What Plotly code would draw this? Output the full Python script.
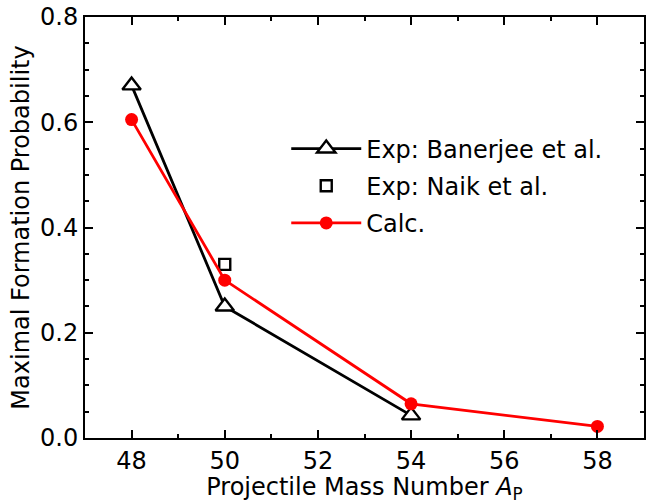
import plotly.graph_objects as go

# Data
mass_banerjee = [48, 50, 54]
prob_banerjee = [0.67, 0.25, 0.043]
mass_naik = [50]
prob_naik = [0.33]
mass_calc = [48, 50, 54, 58]
prob_calc = [0.605, 0.30, 0.065, 0.022]

FONT = "DejaVu Sans"
FS = 24

fig = go.Figure()
fig.add_trace(go.Scatter(
    x=mass_banerjee, y=prob_banerjee, mode="lines+markers",
    name="Exp: Banerjee et al.", legendgroup="a",
    line=dict(color="black", width=2.8),
    marker=dict(symbol="triangle-up", size=16, color="white",
                line=dict(color="black", width=2.4)),
))
fig.add_trace(go.Scatter(
    x=mass_naik, y=prob_naik, mode="markers",
    name="Exp: Naik et al.", legendgroup="b",
    marker=dict(symbol="square", size=11, color="white",
                line=dict(color="black", width=2.4)),
))
fig.add_trace(go.Scatter(
    x=mass_calc, y=prob_calc, mode="lines+markers",
    name="Calc.", legendgroup="c",
    line=dict(color="red", width=2.8),
    marker=dict(symbol="circle", size=13, color="red"),
))

axis_common = dict(
    showline=True, linecolor="black", linewidth=2, mirror="allticks",
    ticks="inside", ticklen=8, tickwidth=1.5, tickcolor="black",
    showgrid=False, zeroline=False,
    tickfont=dict(family=FONT, size=FS, color="black"),
)

fig.update_xaxes(
    range=[47, 59], dtick=2, tick0=48,
    minor=dict(ticks="inside", dtick=1, ticklen=4, tickwidth=1.5, tickcolor="black"),
    title=dict(text="Projectile Mass Number <i>A</i><sub>P</sub>",
               font=dict(family=FONT, size=FS, color="black"), standoff=0),
    **axis_common,
)
fig.update_yaxes(
    range=[0, 0.8], dtick=0.2, tickformat=".1f",
    minor=dict(ticks="inside", dtick=0.05, ticklen=4, tickwidth=1.5, tickcolor="black"),
    title=dict(text="Maximal Formation Probability",
               font=dict(family=FONT, size=FS, color="black"), standoff=4),
    **axis_common,
)

fig.update_layout(
    width=648, height=504,
    margin=dict(l=85, r=2, t=17, b=66),
    plot_bgcolor="white", paper_bgcolor="white",
    font=dict(family=FONT, size=FS, color="black"),
    legend=dict(x=0.36, y=0.74, xanchor="left", yanchor="top",
                bgcolor="rgba(0,0,0,0)", font=dict(family=FONT, size=FS),
                tracegroupgap=3, itemwidth=70),
)

fig.write_html("out.html")
